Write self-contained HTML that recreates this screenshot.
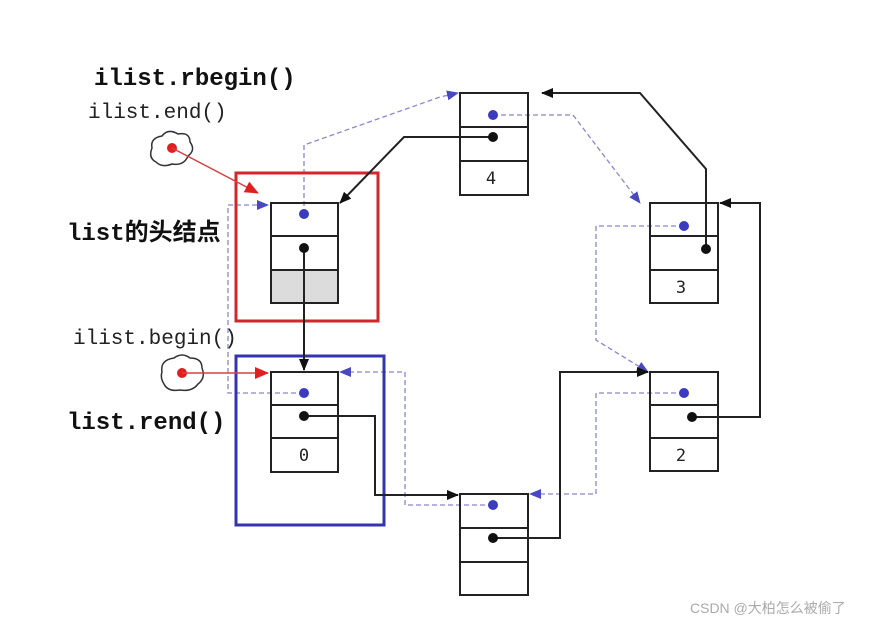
<!DOCTYPE html>
<html><head><meta charset="utf-8"><style>
html,body{margin:0;padding:0;background:#fff;width:876px;height:622px;overflow:hidden}
svg{display:block}
.lbl{font-family:"Liberation Mono","Noto Sans CJK SC",monospace;font-weight:bold;fill:#111}
</style></head><body>
<svg width="876" height="622" viewBox="0 0 876 622" xmlns="http://www.w3.org/2000/svg">
<defs>
<marker id="ab" markerWidth="12" markerHeight="10" refX="11" refY="5" orient="auto" markerUnits="userSpaceOnUse"><path d="M0,0 L12,5 L0,10z" fill="#111"/></marker>
<marker id="au" markerWidth="12" markerHeight="10" refX="11" refY="5" orient="auto" markerUnits="userSpaceOnUse"><path d="M0,0 L12,5 L0,10z" fill="#4a48c0"/></marker>
<marker id="ar" markerWidth="14" markerHeight="12" refX="13" refY="6" orient="auto" markerUnits="userSpaceOnUse"><path d="M0,0 L14,6 L0,12z" fill="#e02020"/></marker>
</defs>

<!-- labels -->
<text class="lbl" x="94" y="85" font-size="24">ilist.rbegin()</text>
<text x="88" y="118" font-size="21" font-family="'Liberation Mono',monospace" fill="#222">ilist.end()</text>
<text class="lbl" x="67" y="240" font-size="24">list的头结点</text>
<text x="73" y="344" font-size="21" font-family="'Liberation Mono',monospace" fill="#222">ilist.begin()</text>
<text class="lbl" x="67" y="429" font-size="24">list.rend()</text>
<text x="690" y="613" font-size="14" font-family="'Liberation Sans','Noto Sans CJK SC',sans-serif" fill="#aaa">CSDN @大柏怎么被偷了</text>

<!-- blue dashed prev links -->
<g fill="none" stroke="#8a88cc" stroke-width="1.3" stroke-dasharray="5,3">
<polyline points="304,214 304,145 440,97 458,93" marker-end="url(#au)"/>
<polyline points="493,115 573,115 640,203" marker-end="url(#au)"/>
<polyline points="684,226 596,226 596,340 648,372" marker-end="url(#au)"/>
<polyline points="684,393 596,393 596,494 530,494" marker-end="url(#au)"/>
<polyline points="493,505 405,505 405,372 340,372" marker-end="url(#au)"/>
<polyline points="304,393 228,393 228,205 268,205" marker-end="url(#au)"/>
</g>

<!-- boxes -->
<rect x="236" y="173" width="142" height="148" fill="none" stroke="#d0262e" stroke-width="3"/>
<rect x="236" y="356" width="148" height="169" fill="none" stroke="#3434b0" stroke-width="3"/>

<g fill="none" stroke="#222" stroke-width="2">
<rect x="271" y="270" width="67" height="33" fill="#dcdcdc"/>
<rect x="271" y="203" width="67" height="100"/><line x1="271" y1="236" x2="338" y2="236"/><line x1="271" y1="270" x2="338" y2="270"/>
<rect x="460" y="93" width="68" height="102"/><line x1="460" y1="127" x2="528" y2="127"/><line x1="460" y1="161" x2="528" y2="161"/>
<rect x="650" y="203" width="68" height="100"/><line x1="650" y1="236" x2="718" y2="236"/><line x1="650" y1="270" x2="718" y2="270"/>
<rect x="650" y="372" width="68" height="99"/><line x1="650" y1="405" x2="718" y2="405"/><line x1="650" y1="438" x2="718" y2="438"/>
<rect x="271" y="372" width="67" height="100"/><line x1="271" y1="405" x2="338" y2="405"/><line x1="271" y1="438" x2="338" y2="438"/>
<rect x="460" y="494" width="68" height="101"/><line x1="460" y1="528" x2="528" y2="528"/><line x1="460" y1="562" x2="528" y2="562"/>
</g>

<g font-family="'DejaVu Sans Mono',monospace" font-size="17" fill="#222" text-anchor="middle">
<text x="491" y="184">4</text><text x="681" y="293">3</text><text x="681" y="461">2</text><text x="304" y="461">0</text>
</g>

<!-- black next links -->
<g fill="none" stroke="#222" stroke-width="2">
<polyline points="304,248 304,370" marker-end="url(#ab)"/>
<polyline points="304,416 375,416 375,495 458,495" marker-end="url(#ab)"/>
<polyline points="493,538 560,538 560,372 648,372" marker-end="url(#ab)"/>
<polyline points="692,417 760,417 760,203 720,203" marker-end="url(#ab)"/>
<polyline points="706,249 706,169 640,93 542,93" marker-end="url(#ab)"/>
<polyline points="493,137 404,137 340,203" marker-end="url(#ab)"/>
</g>

<!-- dots -->
<g fill="#3b3bc0"><circle cx="304" cy="214" r="5"/><circle cx="493" cy="115" r="5"/><circle cx="684" cy="226" r="5"/><circle cx="684" cy="393" r="5"/><circle cx="304" cy="393" r="5"/><circle cx="493" cy="505" r="5"/></g>
<g fill="#111"><circle cx="304" cy="248" r="5"/><circle cx="493" cy="137" r="5"/><circle cx="706" cy="249" r="5"/><circle cx="692" cy="417" r="5"/><circle cx="304" cy="416" r="5"/><circle cx="493" cy="538" r="5"/></g>

<!-- clouds -->
<g fill="none" stroke="#333" stroke-width="1.5">
<path d="M152,148 q-2,-10 10,-12 q6,-8 16,-2 q12,-2 12,8 q6,8 -2,14 q-4,10 -16,8 q-10,4 -16,-2 q-8,-4 -4,-14z"/>
<path d="M162,372 q-2,-12 12,-14 q8,-6 16,0 q12,0 12,10 q4,10 -4,16 q-6,8 -18,6 q-12,2 -16,-6 q-4,-6 -2,-12z"/>
</g>
<g fill="#e02020"><circle cx="172" cy="148" r="5"/><circle cx="182" cy="373" r="5"/></g>
<g fill="none" stroke="#d84040" stroke-width="1.5">
<line x1="172" y1="148" x2="258" y2="193" marker-end="url(#ar)"/>
<line x1="182" y1="373" x2="268" y2="373" marker-end="url(#ar)"/>
</g>
</svg>
</body></html>
